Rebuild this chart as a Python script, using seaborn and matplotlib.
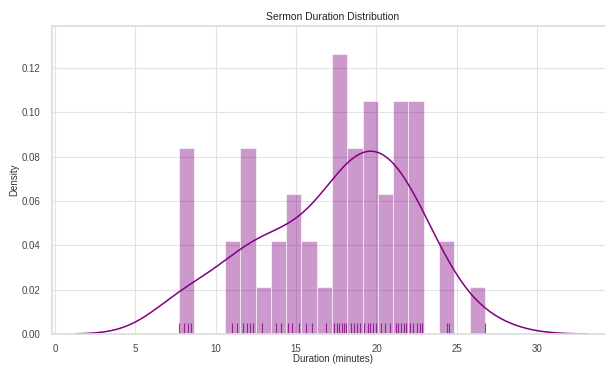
import numpy as np
import pandas as pd
import matplotlib
matplotlib.use("Agg")
import matplotlib.pyplot as plt
import seaborn as sns

durations = [
    7.72, 8.05, 8.25, 8.45,
    11.0, 11.3,
    11.7, 11.95, 12.15, 12.35,
    12.85,
    13.75, 14.05,
    14.5, 14.75, 15.2,
    15.6, 16.0,
    16.85,
    17.35, 17.55, 17.7, 17.85, 17.95, 18.1,
    18.4, 18.6, 18.8, 19.0,
    19.25, 19.45, 19.6, 19.8, 19.95,
    20.3, 20.55, 20.85,
    21.2, 21.35, 21.5, 21.7, 21.85,
    22.1, 22.3, 22.55, 22.7, 22.85,
    24.4, 24.5,
    26.75,
]
x_ticks = [0, 5, 10, 15, 20, 25, 30]
y_ticks = [0.00, 0.02, 0.04, 0.06, 0.08, 0.10, 0.12]

df = pd.DataFrame({"Duration": durations})

sns.set_theme(style="whitegrid")
plt.rcParams["font.family"] = ["Liberation Sans", "DejaVu Sans"]

fig = plt.figure(figsize=(6.05, 3.65), dpi=100)
ax = fig.add_axes([0.0855, 0.085, 0.93, 0.844])

sns.histplot(data=df, x="Duration", bins=20, stat="density", color="purple",
             alpha=0.4, edgecolor="white", linewidth=0.4, ax=ax)
sns.kdeplot(data=df, x="Duration", color="purple", linewidth=1.1, cut=3, ax=ax)
sns.rugplot(data=df, x="Duration", color="purple", height=0.035, linewidth=0.8,
            alpha=0.75, ax=ax)

ax.set_xlim(-0.2, 34.8)
ax.set_ylim(0, 0.139)
ax.set_xticks(x_ticks)
ax.set_yticks(y_ticks)
ax.set_xticklabels([str(t) for t in x_ticks])
ax.set_yticklabels([f"{t:.2f}" for t in y_ticks])
ax.tick_params(labelsize=7, colors="#444444", pad=2)
ax.tick_params(axis="x", pad=1)
ax.set_xlabel("Duration (minutes)", fontsize=7, color="#333333", labelpad=0)
ax.set_ylabel("Density", fontsize=7, color="#333333", labelpad=2)
ax.set_title("Sermon Duration Distribution", fontsize=7.5, color="#222222", pad=4)
for s in ax.spines.values():
    s.set_color("#dddddd")
ax.grid(color="#e2e2e2", linewidth=0.8)

fig.savefig("out.png", dpi=100)
